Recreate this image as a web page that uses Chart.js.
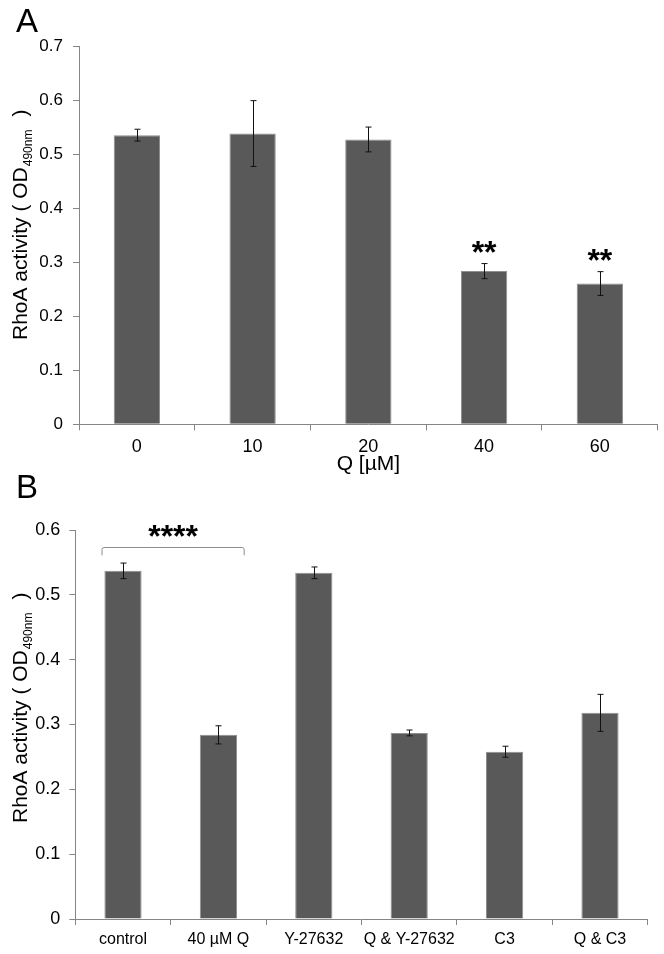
<!DOCTYPE html>
<html>
<head>
<meta charset="utf-8">
<script src="https://cdn.jsdelivr.net/npm/chart.js@4.4.1/dist/chart.umd.min.js"></script>
<style>
html, body { margin:0; padding:0; background:#fff; }
#wrap { position:relative; width:664px; height:954px; overflow:hidden; }
#wrap canvas { position:absolute; left:0; }
#chartA { top:0; }
#chartB { top:470px; }
</style>
</head>
<body>
<div id="wrap">
<canvas id="chartA" width="664" height="480"></canvas>
<canvas id="chartB" width="664" height="484"></canvas>
</div>
<script>
// panel A: quercetin dose
var doseLabels = ['0', '10', '20', '40', '60'];
var doseMeans = [0.536, 0.539, 0.528, 0.284, 0.261];
var doseErrors = [0.011, 0.061, 0.023, 0.014, 0.022];
var doseMarks = ['', '', '', '**', '**'];
var doseTicks = [0, 0.7, 0.1]; // min, max, step

// panel B: treatments
var treatLabels = ['control', '40 µM Q', 'Y-27632', 'Q & Y-27632', 'C3', 'Q & C3'];
var treatMeans = [0.537, 0.284, 0.534, 0.287, 0.258, 0.318];
var treatErrors = [0.012, 0.014, 0.009, 0.0045, 0.0085, 0.0285];
var treatTicks = [0, 0.6, 0.1];
var treatBracket = { from: 0, to: 1, level: 0.574, mark: '****' };

var FONT = "'Liberation Sans', Arial, sans-serif";
var AXIS_GREY = '#868686';
var BAR_GREY = '#595959';

var panelExtras = {
	id: 'panelExtras',
	afterDatasetsDraw: function(chart, args, opts) {
		var ctx = chart.ctx;
		var meta = chart.getDatasetMeta(0);
		var y = chart.scales.y;
		var x = chart.scales.x;
		ctx.save();
		ctx.strokeStyle = '#111';
		ctx.lineWidth = 1;
		opts.means.forEach(function(m, i) {
			var bx = Math.round(meta.data[i].x) + 0.5;
			var top = y.getPixelForValue(m + opts.errors[i]);
			var bot = y.getPixelForValue(m - opts.errors[i]);
			ctx.beginPath();
			ctx.moveTo(bx, top); ctx.lineTo(bx, bot);
			ctx.moveTo(bx - 3, top); ctx.lineTo(bx + 3, top);
			ctx.moveTo(bx - 3, bot); ctx.lineTo(bx + 3, bot);
			ctx.stroke();
			if (opts.marks && opts.marks[i]) {
				ctx.fillStyle = '#000';
				ctx.font = 'bold 32px ' + FONT;
				ctx.textAlign = 'center';
				ctx.textBaseline = 'alphabetic';
				ctx.fillText(opts.marks[i], meta.data[i].x, top - 1);
			}
		});
		if (opts.bracket) {
			var b = opts.bracket;
			var x1 = x.getPixelForValue(b.from - 0.22);
			var x2 = x.getPixelForValue(b.to + 0.27);
			var yt = Math.round(y.getPixelForValue(b.level)) + 0.5;
			var yl = y.getPixelForValue(b.level - 0.013);
			ctx.strokeStyle = '#8c8c8c';
			ctx.beginPath();
			ctx.moveTo(x1, yl); ctx.lineTo(x1, yt + 2);
			ctx.quadraticCurveTo(x1, yt, x1 + 2, yt);
			ctx.lineTo(x2 - 2, yt);
			ctx.quadraticCurveTo(x2, yt, x2, yt + 2);
			ctx.lineTo(x2, yl);
			ctx.stroke();
			ctx.fillStyle = '#000';
			ctx.font = 'bold 32px ' + FONT;
			ctx.textAlign = 'center';
			ctx.textBaseline = 'alphabetic';
			ctx.fillText(b.mark, (x1 + x2) / 2, yt - 1);
		}
		ctx.restore();
	},
	afterDraw: function(chart, args, opts) {
		var ctx = chart.ctx;
		ctx.save();
		ctx.fillStyle = '#000';
		ctx.textAlign = 'left';
		ctx.textBaseline = 'alphabetic';
		// panel letter
		ctx.font = '33px ' + FONT;
		ctx.fillText(opts.letter, 16, opts.letterY);
		// rotated y title with subscript
		ctx.translate(opts.titleX, opts.titleStart);
		ctx.rotate(-Math.PI / 2);
		ctx.font = '21px ' + FONT;
		var p1 = 'RhoA activity ( OD';
		ctx.fillText(p1, 0, 0);
		var w = ctx.measureText(p1).width;
		ctx.font = '12px ' + FONT;
		ctx.fillText('490nm', w + 1, 5);
		w += 1 + ctx.measureText('490nm').width;
		ctx.font = '21px ' + FONT;
		ctx.fillText(')', w + 13, 0);
		ctx.restore();
	}
};

function makeChart(id, labels, means, ticks, geo, extras) {
	return new Chart(document.getElementById(id), {
		type: 'bar',
		data: {
			labels: labels,
			datasets: [{
				data: means,
				backgroundColor: BAR_GREY,
				borderColor: '#8f8f8f',
				borderWidth: 1,
				categoryPercentage: 1,
				barPercentage: geo.barPct
			}]
		},
		plugins: [panelExtras],
		options: {
			responsive: false,
			animation: false,
			devicePixelRatio: 1,
			layout: { padding: { left: 0, top: geo.top, right: geo.right, bottom: 0 } },
			plugins: {
				legend: { display: false },
				tooltip: { enabled: false },
				panelExtras: extras
			},
			scales: {
				x: {
					grid: { display: true, drawOnChartArea: false, drawTicks: true, tickLength: 6, color: AXIS_GREY, offset: true },
					border: { display: true, color: AXIS_GREY, width: 1 },
					ticks: { color: '#000', font: { family: FONT, size: geo.xFont }, padding: geo.xPad, maxRotation: 0, autoSkip: false },
					title: geo.xTitle ? { display: true, text: geo.xTitle, color: '#000', font: { family: FONT, size: 21 }, padding: { top: 0, bottom: 3 } } : { display: false },
					afterFit: function(s) { s.height = geo.xHeight; }
				},
				y: {
					min: ticks[0],
					max: ticks[1],
					ticks: { stepSize: ticks[2], color: '#000', font: { family: FONT, size: geo.yFont }, padding: geo.yPad },
					grid: { drawOnChartArea: false, drawTicks: true, tickLength: 6, color: AXIS_GREY },
					border: { display: true, color: AXIS_GREY, width: 1 },
					afterFit: function(s) { s.width = geo.left; }
				}
			}
		}
	});
}

makeChart('chartA', doseLabels, doseMeans, doseTicks,
	{ barPct: 0.4, top: 46.7, right: 6.3, left: 79, xHeight: 55.7, xFont: 18, xPad: 6, yFont: 17, yPad: 10, xTitle: 'Q [µM]' },
	{ means: doseMeans, errors: doseErrors, marks: doseMarks, letter: 'A', letterY: 32, titleX: 27, titleStart: 340 });

makeChart('chartB', treatLabels, treatMeans, treatTicks,
	{ barPct: 0.39, top: 60, right: 16.3, left: 75.3, xHeight: 35, xFont: 16, xPad: 5, yFont: 18, yPad: 9, xTitle: null },
	{ means: treatMeans, errors: treatErrors, bracket: treatBracket, letter: 'B', letterY: 28, titleX: 27, titleStart: 353 });
</script>
</body>
</html>
